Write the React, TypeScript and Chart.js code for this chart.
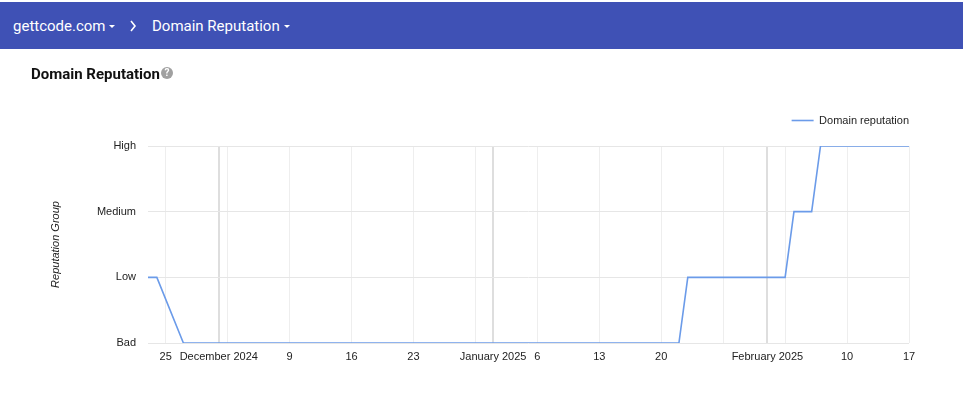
import { useEffect, useRef } from 'react';
import { Chart, registerables } from 'chart.js';

Chart.register(...registerables);

const levelNames = ['Bad', 'Low', 'Medium', 'High'];
const seriesLabel = 'Domain reputation';
const pointDates = ['2024-11-23', '2024-11-24', '2024-11-27', '2025-01-22', '2025-01-23', '2025-02-03', '2025-02-04', '2025-02-06', '2025-02-07', '2025-02-17'];
const pointLevels = ['Low', 'Low', 'Bad', 'Bad', 'Low', 'Low', 'Medium', 'Medium', 'High', 'High'];
const axisStart = '2024-11-23';
const axisEnd = '2025-02-17';
const tickDates = ['2024-11-25', '2024-12-01', '2024-12-02', '2024-12-09', '2024-12-16', '2024-12-23', '2024-12-30', '2025-01-01', '2025-01-06', '2025-01-13', '2025-01-20', '2025-01-27', '2025-02-01', '2025-02-03', '2025-02-10', '2025-02-17'];
const tickLabels = ['25', 'December 2024', '', '9', '16', '23', '', 'January 2025', '6', '13', '20', '', 'February 2025', '', '10', '17'];
const monthTickDates = ['2024-12-01', '2025-01-01', '2025-02-01'];

const dayIndex = (s: string) => (Date.parse(s) - Date.parse(axisStart)) / 86400000;

export default function App() {
  const ref = useRef<HTMLCanvasElement | null>(null);

  useEffect(() => {
    if (!ref.current) return;
    const monthDays = monthTickDates.map(dayIndex);
    const tickDays = tickDates.map(dayIndex);
    const legendHeightPlugin = {
      id: 'legendHeight',
      beforeInit(chart: any) {
        const legend = chart.legend;
        if (!legend) return;
        const fit = legend.fit;
        legend.fit = function () {
          fit.call(this);
          this.height = 31;
        };
      },
    };
    const font = { family: 'Arial, "Liberation Sans", sans-serif', size: 11 };
    const chart = new Chart(ref.current, {
      type: 'line',
      data: {
        datasets: [
          {
            label: seriesLabel,
            data: pointDates.map((d, i) => ({ x: dayIndex(d), y: levelNames.indexOf(pointLevels[i]) })),
            borderColor: '#6b9be9',
            backgroundColor: '#6b9be9',
            borderWidth: 1.6,
            pointRadius: 0,
            tension: 0,
          },
        ],
      },
      options: {
        animation: false,
        responsive: false,
        maintainAspectRatio: false,
        layout: { padding: { left: 45, right: 54, top: 115, bottom: 34 } },
        plugins: {
          tooltip: { enabled: false },
          legend: {
            position: 'top',
            align: 'end',
            labels: {
              usePointStyle: true,
              pointStyle: 'line',
              pointStyleWidth: 22,
              padding: 0,
              color: '#222',
              font,
            },
          },
        },
        scales: {
          x: {
            type: 'linear',
            min: dayIndex(axisStart),
            max: dayIndex(axisEnd),
            afterBuildTicks: (scale: any) => {
              scale.ticks = tickDays.map((v) => ({ value: v }));
            },
            afterFit: (scale: any) => {
              scale.height = 30;
            },
            border: { display: false },
            grid: {
              drawTicks: false,
              color: (c: any) => (c.tick && monthDays.includes(c.tick.value) ? '#dedede' : '#eeeeee'),
              lineWidth: (c: any) => (c.tick && monthDays.includes(c.tick.value) ? 2 : 1),
            },
            ticks: {
              autoSkip: false,
              maxRotation: 0,
              padding: 7,
              color: '#222',
              font,
              callback: (_v: any, i: number) => tickLabels[i],
            },
          },
          y: {
            type: 'linear',
            min: 0,
            max: levelNames.length - 1,
            afterFit: (scale: any) => {
              scale.width = 103;
            },
            border: { display: false },
            grid: { drawTicks: false, color: '#e6e6e6' },
            ticks: {
              stepSize: 1,
              padding: 12,
              color: '#222',
              font,
              callback: (v: any) => levelNames[v as number] ?? '',
            },
            title: {
              display: true,
              text: 'Reputation Group',
              color: '#222',
              font: { ...font, style: 'italic' },
            },
          },
        },
      },
      plugins: [legendHeightPlugin],
    } as any);
    return () => chart.destroy();
  }, []);

  return (
    <div style={{ position: 'absolute', left: 0, top: 0, width: 963, height: 407, background: '#fff', overflow: 'hidden', fontFamily: 'Roboto, Arial, sans-serif' }}>
      <canvas ref={ref} width={963} height={407} style={{ position: 'absolute', left: 0, top: 0, width: 963, height: 407 }} />
      <div style={{ position: 'absolute', left: 0, top: 2, width: 963, height: 47, background: '#3f51b5', color: '#fff', fontSize: 15, zIndex: 1 }}>
        <span style={{ position: 'absolute', left: 13, top: 14, lineHeight: '20px' }}>gettcode.com</span>
        <span style={{ position: 'absolute', left: 109, top: 23, width: 0, height: 0, borderLeft: '3px solid transparent', borderRight: '3px solid transparent', borderTop: '3px solid #fff' }} />
        <svg style={{ position: 'absolute', left: 129, top: 18 }} width={8} height={12} viewBox="0 0 8 12">
          <polyline points="2,1 6,6 2,11" fill="none" stroke="#fff" strokeWidth={1.6} />
        </svg>
        <span style={{ position: 'absolute', left: 152, top: 14, lineHeight: '20px' }}>Domain Reputation</span>
        <span style={{ position: 'absolute', left: 284, top: 23, width: 0, height: 0, borderLeft: '3px solid transparent', borderRight: '3px solid transparent', borderTop: '3px solid #fff' }} />
      </div>
      <div style={{ position: 'absolute', left: 31, top: 64, fontSize: 15, fontWeight: 'bold', color: '#111', lineHeight: '20px', zIndex: 1 }}>Domain Reputation</div>
      <div style={{ position: 'absolute', left: 161, top: 67, width: 12, height: 12, borderRadius: 6, background: '#a0a0a0', color: '#fff', fontSize: 10, fontWeight: 'bold', lineHeight: '12px', textAlign: 'center', zIndex: 1 }}>?</div>
    </div>
  );
}
